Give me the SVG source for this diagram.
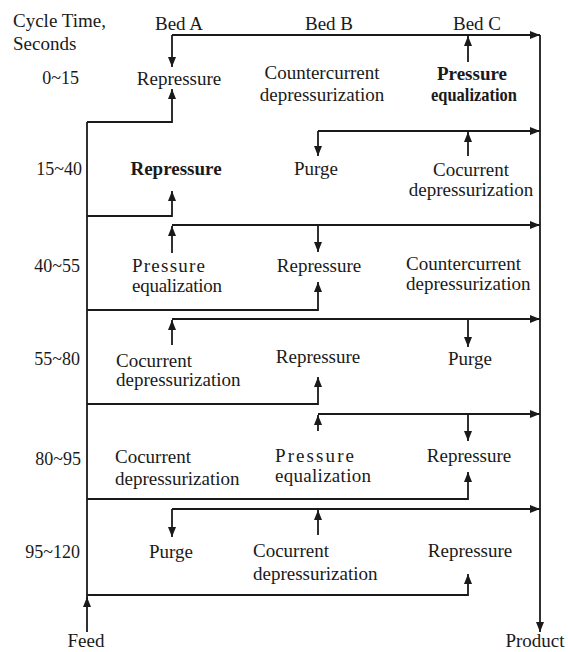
<svg xmlns="http://www.w3.org/2000/svg" width="568" height="652" viewBox="0 0 568 652">
<style>
text{font-family:"Liberation Serif","Liberation Sans",serif;font-size:19px;fill:#1a1a1a}
.m{text-anchor:middle}
.e{text-anchor:end}
.b{font-weight:bold}
.t{font-size:18px}
.c path{fill:none;stroke:#1a1a1a;stroke-width:1.8}
.a{marker-end:url(#ah)}
</style>
<defs>
<marker id="ah" markerUnits="userSpaceOnUse" markerWidth="10" markerHeight="8" refX="10" refY="4" orient="auto">
<path d="M0,0 L10,4 L0,8 z" fill="#1a1a1a"/>
</marker>
</defs>
<rect width="568" height="652" fill="#fff"/>
<g id="headers">
<text x="13" y="27">Cycle Time,</text>
<text x="13" y="50">Seconds</text>
<text x="179" y="30" class="m">Bed A</text>
<text x="329" y="30" class="m">Bed B</text>
<text x="477" y="30" class="m">Bed C</text>
</g>
<g id="times">
<text x="79" y="84" class="e t">0~15</text>
<text x="82" y="175" class="e t">15~40</text>
<text x="80" y="272" class="e t">40~55</text>
<text x="80" y="365" class="e t">55~80</text>
<text x="81" y="465" class="e t">80~95</text>
<text x="80" y="558" class="e t">95~120</text>
</g>
<g id="row1">
<text x="179" y="85" class="m">Repressure</text>
<text x="322" y="79" class="m">Countercurrent</text>
<text x="322" y="101" class="m">depressurization</text>
<text x="472" y="80" class="m b">Pressure</text>
<text x="474" y="101" class="m b" textLength="86" lengthAdjust="spacingAndGlyphs">equalization</text>
</g>
<g id="row2">
<text x="176" y="175" class="m b">Repressure</text>
<text x="316" y="175" class="m">Purge</text>
<text x="471" y="176" class="m">Cocurrent</text>
<text x="471" y="196" class="m">depressurization</text>
</g>
<g id="row3">
<text x="132" y="272" textLength="73">Pressure</text>
<text x="132" y="292" textLength="90">equalization</text>
<text x="319" y="272" class="m">Repressure</text>
<text x="406" y="270">Countercurrent</text>
<text x="406" y="290">depressurization</text>
</g>
<g id="row4">
<text x="116" y="367">Cocurrent</text>
<text x="116" y="386">depressurization</text>
<text x="318" y="363" class="m">Repressure</text>
<text x="470" y="365" class="m">Purge</text>
</g>
<g id="row5">
<text x="115" y="463">Cocurrent</text>
<text x="115" y="485">depressurization</text>
<text x="275" y="462" textLength="79">Pressure</text>
<text x="275" y="482" textLength="96">equalization</text>
<text x="469" y="462" class="m">Repressure</text>
</g>
<g id="row6">
<text x="171" y="558" class="m">Purge</text>
<text x="253" y="557">Cocurrent</text>
<text x="253" y="580">depressurization</text>
<text x="470" y="557" class="m">Repressure</text>
</g>
<g id="feed"><text x="86" y="647" class="m">Feed</text></g>
<g id="product"><text x="535" y="647" class="m">Product</text></g>
<g id="connectors" class="c">
<path class="a" d="M172,35 H540"/>
<path class="a" d="M172,35 V67"/>
<path class="a" d="M468,62 V36"/>
<path class="a" d="M540,35 V632"/>
<path class="a" d="M87,632 V597"/>
<path d="M87,600 V122"/>
<path class="a" d="M87,122 H172 V89"/>
<path class="a" d="M87,216 H172 V191"/>
<path class="a" d="M87,310 H318 V282"/>
<path class="a" d="M87,404 H318 V377"/>
<path class="a" d="M87,499 H468 V472"/>
<path class="a" d="M87,595 H468 V574"/>
<path class="a" d="M318,131 H540"/>
<path class="a" d="M318,131 V156"/>
<path class="a" d="M468,156 V132"/>
<path class="a" d="M172,225 H540"/>
<path class="a" d="M172,253 V226"/>
<path class="a" d="M318,225 V252"/>
<path class="a" d="M172,319 H540"/>
<path class="a" d="M172,345 V320"/>
<path class="a" d="M468,319 V347"/>
<path class="a" d="M318,414 H540"/>
<path class="a" d="M318,431 V415"/>
<path class="a" d="M468,414 V441"/>
<path class="a" d="M172,509 H540"/>
<path class="a" d="M172,509 V537"/>
<path class="a" d="M318,535 V510"/>
</g>
</svg>
